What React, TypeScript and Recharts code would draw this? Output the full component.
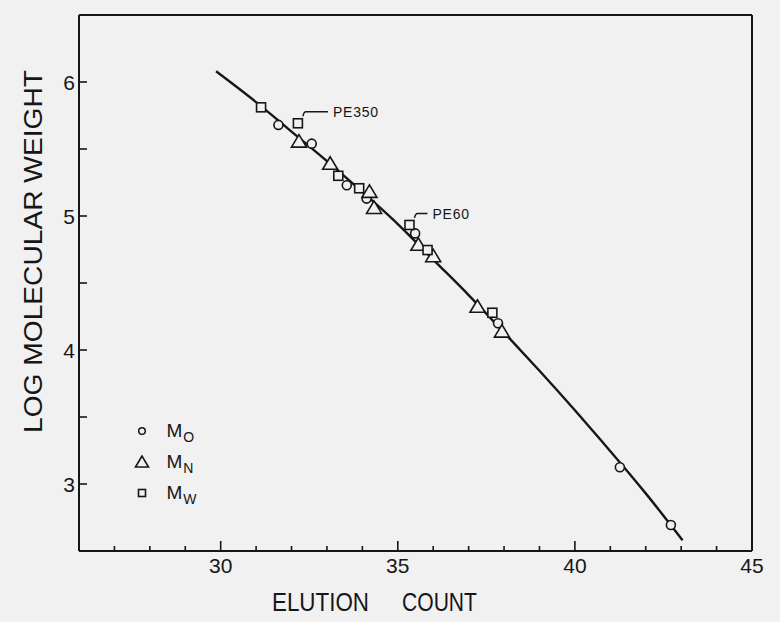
import React from "react";
import {
  ComposedChart,
  Line,
  Scatter,
  XAxis,
  YAxis,
  ReferenceLine,
  ReferenceDot,
  Legend,
} from "recharts";

const BG = "#f1f1f1";
const INK = "#161616";
const FONT = "'Liberation Sans', Arial, sans-serif";

// elution count / log M, one pair of arrays per average
const moCounts = [31.63, 32.57, 33.56, 34.12, 35.49, 37.83, 41.27, 42.71];
const moLogM = [5.68, 5.54, 5.23, 5.13, 4.87, 4.2, 3.125, 2.694];

const mnCounts = [32.21, 33.09, 34.2, 34.33, 35.58, 36.0, 37.25, 37.94];
const mnLogM = [5.555, 5.39, 5.18, 5.06, 4.785, 4.7, 4.323, 4.137];

const mwCounts = [31.14, 32.18, 33.32, 33.91, 35.33, 35.84, 37.67];
const mwLogM = [5.811, 5.692, 5.3, 5.207, 4.933, 4.746, 4.278];

// calibration curve drawn through the points
const curveCounts = [29.87, 31, 32, 33, 34, 35, 36, 37, 38, 39, 40, 41, 42, 43.04];
const curveLogM = [6.08, 5.85, 5.63, 5.41, 5.18, 4.94, 4.675, 4.41, 4.13, 3.845, 3.55, 3.245, 2.93, 2.58];

const seriesSubs = ["O", "N", "W"];

const xTicks = [27, 28, 29, 30, 31, 32, 33, 34, 35, 36, 37, 38, 39, 40, 41, 42, 43, 44, 45];
const xLabels = [30, 35, 40, 45];
const yTicks = [3, 3.5, 4, 4.5, 5, 5.5, 6];
const yLabels = [3, 4, 5, 6];

const noteLabels = ["PE350", "PE60"];
const noteCounts = [32.18, 35.33];
const noteLogM = [5.692, 4.933];

const toPoints = (xs: number[], ys: number[]) => xs.map((x, i) => ({ x, y: ys[i] }));

const moData = toPoints(moCounts, moLogM);
const mnData = toPoints(mnCounts, mnLogM);
const mwData = toPoints(mwCounts, mwLogM);
const curveData = toPoints(curveCounts, curveLogM);

const seriesNames = seriesSubs.map((s) => `M${s}`);

// leader lengths for the two notes
const LEADER: Record<string, number> = { PE350: 22, PE60: 10 };

function CircleMark(p: any) {
  return <circle cx={p.cx} cy={p.cy} r={4.5} fill={BG} stroke={INK} strokeWidth={1.6} />;
}

function TriMark(p: any) {
  const { cx, cy } = p;
  return (
    <polygon
      points={`${cx},${cy - 7} ${cx - 7.5},${cy + 5.5} ${cx + 7.5},${cy + 5.5}`}
      fill={BG}
      stroke={INK}
      strokeWidth={1.6}
    />
  );
}

function SquareMark(p: any) {
  return <rect x={p.cx - 4.5} y={p.cy - 4.5} width={9} height={9} fill={BG} stroke={INK} strokeWidth={1.6} />;
}

function XTick(props: any) {
  const { x, y, payload } = props;
  const v = payload.value;
  const major = xLabels.includes(v);
  return (
    <g>
      <line x1={x} y1={y} x2={x} y2={y - (major ? 10 : 5)} stroke={INK} strokeWidth={1.6} />
      {major && (
        <text x={x} y={y + 22} textAnchor="middle" fontSize={21} fontFamily={FONT} fill={INK}>
          {v}
        </text>
      )}
    </g>
  );
}

function YTick(props: any) {
  const { x, y, payload } = props;
  const v = payload.value;
  return (
    <g>
      <line x1={x} y1={y} x2={x + 8} y2={y} stroke={INK} strokeWidth={1.6} />
      {yLabels.includes(v) && (
        <text x={x - 4} y={y + 7.5} textAnchor="end" fontSize={21} fontFamily={FONT} fill={INK}>
          {v}
        </text>
      )}
    </g>
  );
}

function XTitle(props: any) {
  const vb = props.viewBox || { x: 79, y: 551 };
  const base = vb.y + 60;
  return (
    <g fontFamily={FONT} fontSize={25} fill={INK}>
      <text x={vb.x + 193} y={base} textLength={97} lengthAdjust="spacingAndGlyphs">
        ELUTION
      </text>
      <text x={vb.x + 323} y={base} textLength={75} lengthAdjust="spacingAndGlyphs">
        COUNT
      </text>
    </g>
  );
}

function YTitle(props: any) {
  const vb = props.viewBox || { x: 0, y: 15 };
  const cx = vb.x + 41.5;
  const cy = vb.y + 236.5;
  return (
    <text
      x={cx}
      y={cy}
      transform={`rotate(-90, ${cx}, ${cy})`}
      textAnchor="middle"
      fontFamily={FONT}
      fontSize={26}
      fill={INK}
      textLength={363}
      lengthAdjust="spacingAndGlyphs"
    >
      LOG MOLECULAR WEIGHT
    </text>
  );
}

function Note(props: any) {
  const { cx, cy, label } = props;
  const len = LEADER[label] ?? 15;
  const sx = cx + 5;
  const sy = cy - 7;
  const hy = cy - 11.5;
  return (
    <g>
      <path
        d={`M${sx},${sy} Q${sx + 1},${hy} ${sx + 3},${hy} L${sx + 3 + len},${hy}`}
        fill="none"
        stroke={INK}
        strokeWidth={1.4}
      />
      <text x={sx + 8 + len} y={hy + 5.5} fontFamily={FONT} fontSize={14} letterSpacing={0.8} fill={INK}>
        {label}
      </text>
    </g>
  );
}

function LegendSymbol({ type }: { type: string }) {
  if (type === "triangle") {
    return <polygon points="12,-6 5.5,5 18.5,5" fill="none" stroke={INK} strokeWidth={1.6} />;
  }
  if (type === "square") {
    return <rect x={8.5} y={-3.5} width={7} height={7} fill="none" stroke={INK} strokeWidth={1.6} />;
  }
  return <circle cx={12} cy={0} r={3.3} fill="none" stroke={INK} strokeWidth={1.5} />;
}

function LegendBox(props: any) {
  const payload = (props.payload || [])
    .filter((e: any) => seriesNames.includes(String(e.value)))
    .sort((a: any, b: any) => seriesNames.indexOf(String(a.value)) - seriesNames.indexOf(String(b.value)));
  return (
    <svg width={90} height={110} style={{ display: "block", overflow: "visible" }}>
      {payload.map((entry: any, i: number) => {
        const name = String(entry.value);
        return (
          <g key={name} transform={`translate(0, ${19 + i * 31})`}>
            <LegendSymbol type={entry.type} />
            <text x={36.5} y={6} fontFamily={FONT} fontSize={19} fill={INK}>
              {name.slice(0, 1)}
              <tspan fontSize={14} dy={4.5} dx={1}>
                {name.slice(1)}
              </tspan>
            </text>
          </g>
        );
      })}
    </svg>
  );
}

export default function App() {
  return (
    <div style={{ position: "absolute", left: 0, top: 0, width: 780, height: 622, background: BG }}>
      <ComposedChart
        width={780}
        height={622}
        margin={{ top: 15, right: 28, bottom: 0, left: 0 }}
        style={{ background: BG }}
      >
        <XAxis
          type="number"
          dataKey="x"
          domain={[26, 45]}
          ticks={xTicks}
          allowDataOverflow
          height={71}
          tickSize={0}
          tickMargin={0}
          tickLine={false}
          tick={<XTick />}
          axisLine={{ stroke: INK, strokeWidth: 2 }}
          label={(p: any) => <XTitle {...p} />}
        />
        <YAxis
          type="number"
          dataKey="y"
          domain={[2.5, 6.5]}
          ticks={yTicks}
          allowDataOverflow
          width={79}
          tickSize={0}
          tickMargin={0}
          tickLine={false}
          tick={<YTick />}
          axisLine={{ stroke: INK, strokeWidth: 2 }}
          label={(p: any) => <YTitle {...p} />}
        />
        <ReferenceLine y={6.5} stroke={INK} strokeWidth={2} />
        <ReferenceLine x={45} stroke={INK} strokeWidth={2} />
        <Line
          data={curveData}
          dataKey="y"
          type="natural"
          stroke={INK}
          strokeWidth={2.4}
          dot={false}
          activeDot={false}
          legendType="none"
          isAnimationActive={false}
        />
        <Scatter name={seriesNames[0]} data={moData} legendType="circle" shape={<CircleMark />} isAnimationActive={false} />
        <Scatter name={seriesNames[1]} data={mnData} legendType="triangle" shape={<TriMark />} isAnimationActive={false} />
        <Scatter name={seriesNames[2]} data={mwData} legendType="square" shape={<SquareMark />} isAnimationActive={false} />
        {noteLabels.map((label, i) => (
          <ReferenceDot
            key={label}
            x={noteCounts[i]}
            y={noteLogM[i]}
            shape={(p: any) => <Note {...p} label={label} />}
          />
        ))}
        <Legend
          layout="vertical"
          align="center"
          verticalAlign="middle"
          content={<LegendBox />}
          wrapperStyle={{ left: 130, top: 412, width: 90 }}
        />
      </ComposedChart>
    </div>
  );
}
